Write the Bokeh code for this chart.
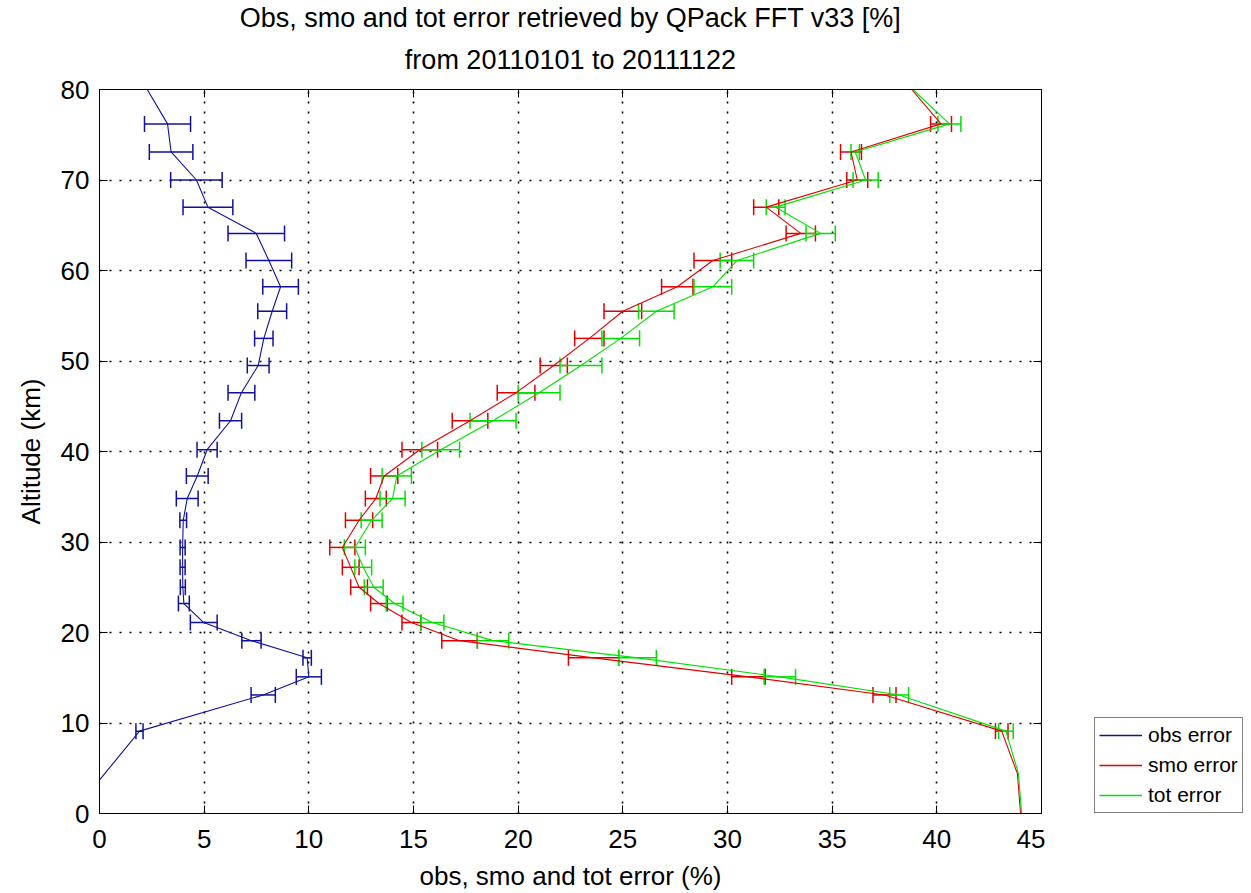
import math
from bokeh.plotting import figure
from bokeh.layouts import row
from bokeh.models import (Whisker, TeeHead, ColumnDataSource, LinearAxis, Legend,
                          LegendItem, Title, FixedTicker, CustomJSTickFormatter, Range1d)
from bokeh.embed import file_html
from bokeh.resources import INLINE

# ---------------- data ----------------
altitude = [80.0, 76.2, 73.1, 70.0, 67.0, 64.1, 61.1, 58.2, 55.5, 52.5, 49.5, 46.5,
            43.4, 40.2, 37.3, 34.8, 32.4, 29.4, 27.2, 25.0, 23.2, 21.1, 19.1, 17.2,
            15.1, 13.1, 9.1, 4.4, 0.0]
obs_error = [2.28, 3.25, 3.42, 4.63, 5.18, 7.49, 8.09, 8.65, 8.25, 7.85, 7.58, 6.78,
             6.26, 5.14, 4.67, 4.19, 4.00, 3.97, 3.97, 3.98, 4.03, 4.98, 7.26, 9.92,
             10.00, 7.82, 1.91, 0.25, -1.30]
obs_spread = [None, 1.10, 1.04, 1.23, 1.19, 1.35, 1.09, 0.85, 0.69, 0.44, 0.52, 0.64,
              0.53, 0.48, 0.52, 0.52, 0.16, 0.12, 0.12, 0.12, 0.26, 0.64, 0.46, 0.20,
              0.60, 0.58, 0.17, None, None]
smo_error = [38.8, 40.2, 35.9, 36.2, 31.85, 33.5, 29.3, 27.6, 25.0, 23.4, 21.7, 19.9,
             17.7, 15.3, 13.6, 13.2, 12.4, 11.6, 12.0, 12.4, 13.35, 14.9, 17.2, 23.6,
             31.0, 37.5, 43.1, 43.85, 44.0]
smo_spread = [None, 0.50, 0.50, 0.50, 0.60, 0.70, 0.90, 0.75, 0.90, 0.70, 0.65, 0.90,
              0.85, 0.85, 0.65, 0.50, 0.65, 0.60, 0.40, 0.40, 0.40, 0.45, 0.85, 1.20,
              0.80, 0.55, 0.30, None, None]
tot_error = [38.85, 40.6, 36.1, 36.6, 32.3, 34.45, 30.45, 29.3, 26.6, 24.9, 23.0, 21.0,
             18.8, 16.3, 14.2, 14.0, 13.0, 12.2, 12.6, 13.1, 14.1, 15.9, 18.8, 25.7,
             32.5, 38.2, 43.3, 43.9, 44.05]
tot_spread = [None, 0.55, 0.20, 0.60, 0.45, 0.70, 0.80, 0.90, 0.85, 0.90, 1.00, 1.00,
              1.10, 0.90, 0.70, 0.60, 0.50, 0.50, 0.40, 0.45, 0.40, 0.55, 0.75, 0.90,
              0.75, 0.45, 0.35, None, None]

series_names = ["obs error", "smo error", "tot error"]
x_ticks = [0, 5, 10, 15, 20, 25, 30, 35, 40, 45]
y_ticks = [0, 10, 20, 30, 40, 50, 60, 70, 80]

title_line1 = "Obs, smo and tot error retrieved by QPack FFT v33 [%]"
title_line2 = "from 20110101 to 20111122"
x_label = "obs, smo and tot error (%)"
y_label = "Altitude (km)"

# ---------------- styling ----------------
FONT = "Liberation Sans"
colors = ["#10109c", "#e00000", "#00e000"]

p = figure(width=1045, height=893, output_backend="svg", toolbar_location=None,
           x_range=Range1d(0, 45), y_range=Range1d(0, 80),
           min_border_left=99, min_border_right=4, min_border_top=88,
           min_border_bottom=80)
p.background_fill_color = "white"
p.border_fill_color = "white"
p.outline_line_color = "black"
p.outline_line_width = 1


def style_axis(ax, labels=True):
    ax.axis_line_color = "black"
    ax.major_tick_line_color = "black"
    ax.major_tick_in = 8
    ax.major_tick_out = 0
    ax.minor_tick_line_color = None
    ax.major_label_text_font = FONT
    ax.major_label_text_font_size = "26px"
    ax.major_label_text_color = "black"
    ax.axis_label_text_font = FONT
    ax.axis_label_text_font_size = "26px"
    ax.axis_label_text_font_style = "normal"
    ax.axis_label_text_color = "black"
    if not labels:
        ax.formatter = CustomJSTickFormatter(code="return ''")
        ax.major_label_standoff = 0


p.xaxis.ticker = FixedTicker(ticks=x_ticks)
p.yaxis.ticker = FixedTicker(ticks=y_ticks)
p.xaxis.axis_label = x_label
p.yaxis.axis_label = y_label
for ax in p.xaxis + p.yaxis:
    style_axis(ax)
p.xaxis.major_label_standoff = 16
p.xaxis.axis_label_standoff = 10
p.yaxis.major_label_standoff = 10
p.yaxis.axis_label_standoff = 12

# box ticks on top and right (added first so they sit next to the frame)
top_ax = LinearAxis(ticker=FixedTicker(ticks=x_ticks))
style_axis(top_ax, labels=False)
p.add_layout(top_ax, "above")
right_ax = LinearAxis(ticker=FixedTicker(ticks=y_ticks))
style_axis(right_ax, labels=False)
p.add_layout(right_ax, "right")

# outermost title line
p.title.text = title_line1
p.title.align = "center"
p.title.text_font = FONT
p.title.text_font_size = "27px"
p.title.text_font_style = "normal"
p.title.text_color = "black"
p.title.standoff = 0
# inner title line (closer to the frame), pushed to the top of its space
t2 = Title(text=title_line2, align="center", text_font=FONT, text_font_size="27px",
           text_font_style="normal", text_color="black", standoff=25,
           vertical_align="top")
p.add_layout(t2, "above")

for g in (p.xgrid, p.ygrid):
    g.grid_line_color = "black"
    g.grid_line_width = 1.6
    g.grid_line_dash = "2 8"
    g.grid_line_alpha = 1.0
p.xgrid.ticker = FixedTicker(ticks=x_ticks[1:-1])
p.ygrid.ticker = FixedTicker(ticks=y_ticks[1:-1])

# ---------------- glyphs ----------------
values = [obs_error, smo_error, tot_error]
spreads = [obs_spread, smo_spread, tot_spread]
for name, vals, spr, col in zip(series_names, values, spreads, colors):
    src = ColumnDataSource(dict(alt=altitude, val=vals))
    p.line(x="val", y="alt", source=src, line_color=col, line_width=1.1)
    b_alt, lo, hi = [], [], []
    for a, v, s in zip(altitude, vals, spr):
        if s is None:
            continue
        b_alt.append(a)
        lo.append(v - s)
        hi.append(v + s)
    wsrc = ColumnDataSource(dict(alt=b_alt, lo=lo, hi=hi))
    w = Whisker(source=wsrc, base="alt", lower="lo", upper="hi", dimension="width",
                line_color=col, line_width=1.5,
                lower_head=TeeHead(size=16, line_color=col, line_width=1.5),
                upper_head=TeeHead(size=16, line_color=col, line_width=1.5))
    p.add_layout(w)

# ---------------- legend panel (outside the axes, right side) ----------------
lp = figure(width=206, height=893, output_backend="svg", toolbar_location=None,
            x_range=Range1d(0, 1), y_range=Range1d(0, 1),
            min_border_left=0, min_border_right=0, min_border_top=0,
            min_border_bottom=0)
lp.axis.visible = False
lp.grid.visible = False
lp.outline_line_color = None
lp.background_fill_color = "white"
lp.border_fill_color = "white"
items = []
for name, col in zip(series_names, colors):
    # off-range stub: only the legend sample of this renderer is visible
    r = lp.line(x=[-5, -4], y=[-5, -5], line_color=col, line_width=1.6)
    items.append(LegendItem(label=name, renderers=[r]))

legend = Legend(items=items, location=(49, 0), orientation="vertical")
legend.label_text_font = FONT
legend.label_text_font_size = "21px"
legend.label_text_color = "black"
legend.glyph_width = 43
legend.glyph_height = 26
legend.label_height = 26
legend.label_standoff = 6
legend.spacing = 4
legend.padding = 4
legend.margin = 0
legend.border_line_color = "black"
legend.border_line_width = 1
legend.background_fill_color = "white"
legend.background_fill_alpha = 1.0
lp.add_layout(legend)

layout = row(p, lp, spacing=0)
open("out.html", "w").write(file_html(layout, INLINE))
